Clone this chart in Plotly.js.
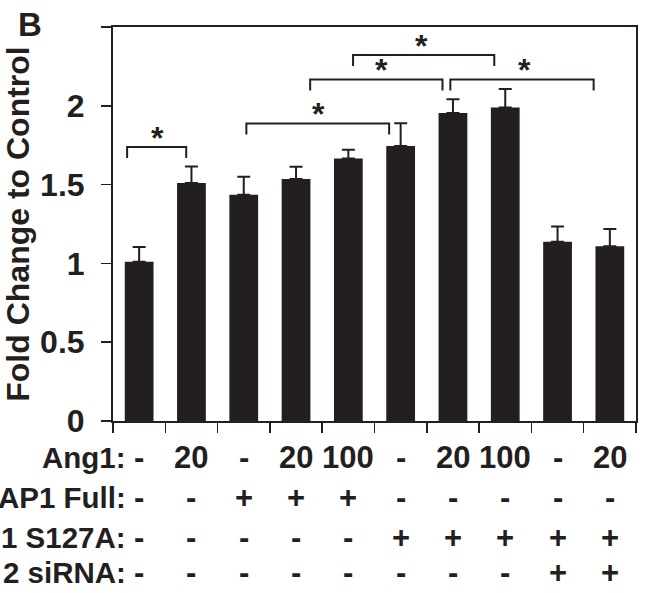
<!DOCTYPE html>
<html>
<head>
<meta charset="utf-8">
<script src="https://cdn.plot.ly/plotly-3.0.1.min.js"></script>
<style>html,body{margin:0;padding:0;background:#fff;}#chart{width:645px;height:593px;}</style>
</head>
<body>
<div id="chart"></div>
<script>
// ---- data ----
const barIndex = [0, 1, 2, 3, 4, 5, 6, 7, 8, 9];
const foldChange = [1.01, 1.51, 1.435, 1.535, 1.665, 1.745, 1.955, 1.99, 1.138, 1.109];
const errorUp = [0.094, 0.105, 0.115, 0.078, 0.056, 0.145, 0.087, 0.117, 0.096, 0.11];
const rowLabels = ['Ang1:', 'AP1 Full:', '1 S127A:', '2 siRNA:'];
const ang1 = ['-', '20', '-', '20', '100', '-', '20', '100', '-', '20'];
const yap1Full = ['-', '-', '+', '+', '+', '-', '-', '-', '-', '-'];
const s127a = ['-', '-', '-', '-', '-', '+', '+', '+', '+', '+'];
const sirna = ['-', '-', '-', '-', '-', '-', '-', '-', '+', '+'];
const yTickVals = [0, 0.5, 1, 1.5, 2, 2.5];
const yTickText = ['0', '0.5', '1', '1.5', '2', ''];
// significance brackets (start bar pos, end bar pos, height)
const bracketStart = [-0.23, 2.05, 3.27, 4.09, 5.95];
const bracketEnd = [0.9, 4.78, 5.8, 6.79, 8.69];
const bracketTop = [1.738, 1.888, 2.167, 2.322, 2.167];
const starX = [0.35, 3.43, 4.64, 5.4, 7.36];
const starLabel = ['*', '*', '*', '*', '*'];

// ---- styling ----
const ink = '#231f20';
const fam = '"Liberation Sans", Arial, Helvetica, sans-serif';
const legDrop = 0.07;

const shapes = bracketStart.map((s, i) => ({
  type: 'path', xref: 'x', yref: 'y',
  path: `M ${s},${bracketTop[i] - legDrop} L ${s},${bracketTop[i]} L ${bracketEnd[i]},${bracketTop[i]} L ${bracketEnd[i]},${bracketTop[i] - legDrop}`,
  line: {color: ink, width: 2}
}));

const annotations = [];
starX.forEach((x, i) => annotations.push({
  x: x, y: bracketTop[i], xref: 'x', yref: 'y', text: starLabel[i], showarrow: false,
  xanchor: 'center', yanchor: 'middle', yshift: 9,
  font: {family: fam, size: 32, weight: 700, color: ink}
}));

const rowsY = [457.5, 497.5, 537, 572.5];
const plotTop = 27, plotBottom = 421;
const toPaperY = py => (plotBottom - py) / (plotBottom - plotTop);
const rows = [ang1, yap1Full, s127a, sirna];
rows.forEach((row, r) => {
  annotations.push({
    x: (127.5 - 113) / 523, y: toPaperY(rowsY[r]), xref: 'paper', yref: 'paper', text: rowLabels[r],
    showarrow: false, xanchor: 'right', yanchor: 'middle',
    font: {family: fam, size: 29.5, weight: 700, color: ink}
  });
  row.forEach((v, i) => annotations.push({
    x: barIndex[i], y: toPaperY(rowsY[r]), xref: 'x', yref: 'paper', text: v,
    showarrow: false, xanchor: 'center', yanchor: 'middle',
    font: {family: fam, size: 31, weight: 700, color: ink}
  }));
});
annotations.push({
  x: (30 - 113) / 523, y: toPaperY(24), xref: 'paper', yref: 'paper', text: 'B', showarrow: false,
  xanchor: 'center', yanchor: 'middle',
  font: {family: fam, size: 33, weight: 700, color: ink}
});

const trace = {
  type: 'bar', x: barIndex, y: foldChange, width: 0.55,
  marker: {color: ink, line: {width: 0}},
  error_y: {type: 'data', symmetric: false, array: errorUp, arrayminus: errorUp.map(() => 0),
            color: ink, thickness: 2, width: 6.5},
  hoverinfo: 'none'
};

const layout = {
  width: 645, height: 593,
  margin: {l: 113, r: 9, t: plotTop, b: 593 - plotBottom, pad: 0},
  paper_bgcolor: '#fff', plot_bgcolor: '#fff',
  showlegend: false,
  font: {family: fam, color: ink},
  xaxis: {
    range: [-0.5, 9.5], showgrid: false, zeroline: false,
    showline: true, mirror: true, linecolor: ink, linewidth: 2,
    ticks: 'outside', ticklen: 10, tickwidth: 1.5, tickcolor: ink,
    tickvals: barIndex.concat([barIndex.length]).map(v => v - 0.5),
    showticklabels: false, fixedrange: true
  },
  yaxis: {
    range: [0, 2.5], showgrid: false, zeroline: false,
    showline: true, mirror: true, linecolor: ink, linewidth: 2,
    ticks: 'outside', ticklen: 10, tickwidth: 1.5, tickcolor: ink,
    tickvals: yTickVals, ticktext: yTickText, ticklabelstandoff: 10,
    tickfont: {family: fam, size: 32, weight: 700, color: ink},
    title: {text: 'Fold Change to Control', standoff: 10,
            font: {family: fam, size: 32, weight: 700, color: ink}},
    fixedrange: true
  },
  shapes: shapes,
  annotations: annotations
};

Plotly.newPlot('chart', [trace], layout, {displayModeBar: false, staticPlot: true});
</script>
</body>
</html>
